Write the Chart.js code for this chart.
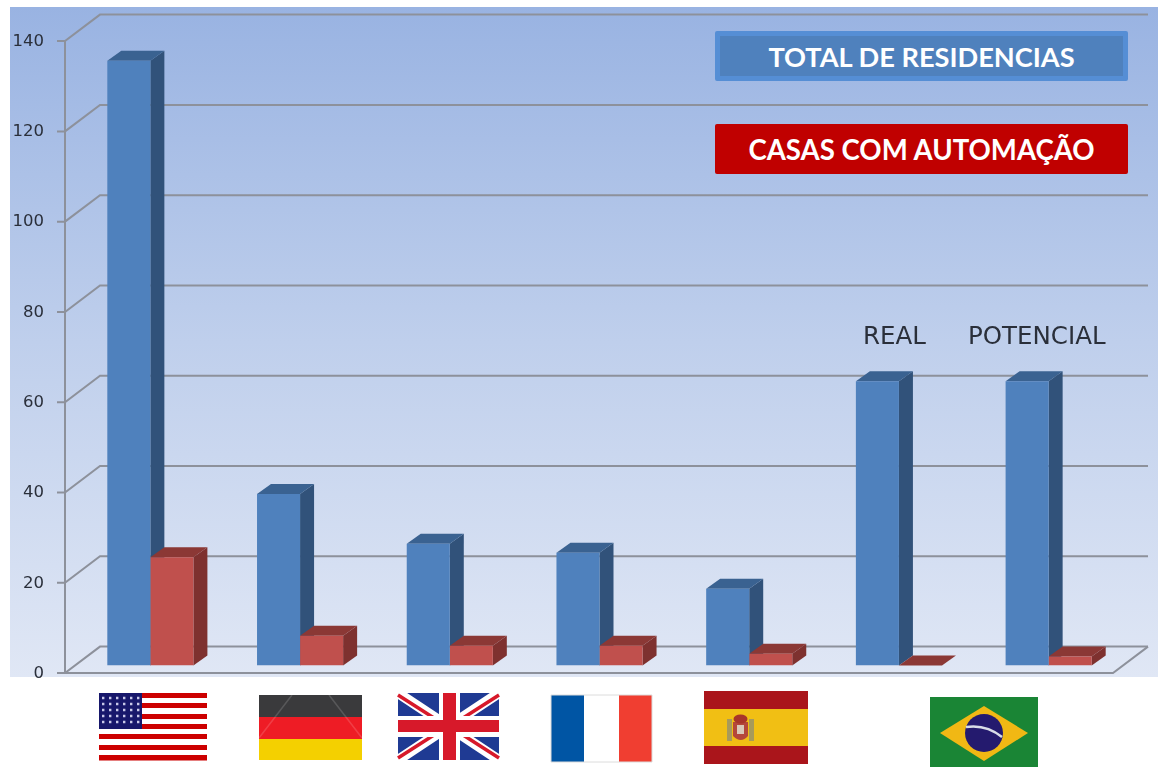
<!DOCTYPE html>
<html>
<head>
<meta charset="utf-8">
<title>Residencias</title>
<script src="https://cdn.jsdelivr.net/npm/chart.js@4/dist/chart.umd.js"></script>
<style>
    html, body { margin: 0; padding: 0; background: #fff; width: 1158px; height: 767px; overflow: hidden; }
    #wrap { position: relative; width: 1158px; height: 767px; overflow: hidden; }
    #chart { position: absolute; left: 0; top: 0; filter: blur(0.6px); }
    #flags { position: absolute; left: 0; top: 0; filter: blur(0.6px); }
    .box { position: absolute; left: 715px; width: 413px; box-sizing: border-box; border-radius: 2px; color: #fff;
        font: bold 27.2px Lato, sans-serif; text-align: center; }
    #boxTotal { top: 31px; height: 50px; line-height: 41px; background: #4f81bd; border: 5px solid #558ed5; }
    #boxCasas { top: 124px; height: 50px; line-height: 52px; background: #c00000; font-size: 27.6px; }
    .note { position: absolute; top: 321px; font: 24.5px "DejaVu Sans", sans-serif; color: #2a2f3a; filter: blur(0.5px); }
</style>
</head>
<body>
<div id="wrap">
    <canvas id="chart" width="1158" height="767"></canvas>

    <svg id="flags" width="1158" height="767" viewBox="0 0 1158 767">
        <!-- usa -->
        <rect x="99" y="693" width="108" height="68" fill="#fff"/>
        <g fill="#cc0000">
            <rect x="99" y="693" width="108" height="5"/><rect x="99" y="703" width="108" height="5"/>
            <rect x="99" y="714" width="108" height="5"/><rect x="99" y="724" width="108" height="5"/>
            <rect x="99" y="734" width="108" height="5"/><rect x="99" y="745" width="108" height="5"/>
            <rect x="99" y="755" width="108" height="5.5"/>
        </g>
        <rect x="99" y="693" width="43" height="36" fill="#17176b"/>
        <g stroke="#c8c8e8" stroke-width="2.4" stroke-dasharray="2.4 4.6">
            <path d="M102 698H141M102 704H141M102 710H141M102 716H141M102 722H141"/>
        </g>
        <!-- germany -->
        <rect x="259" y="695" width="103" height="22" fill="#3a3a3c"/>
        <rect x="259" y="717" width="103" height="22" fill="#ee1c25"/>
        <rect x="259" y="739" width="103" height="21" fill="#f4d000"/>
        <path d="M259 738L292 695M329 695L362 738" stroke="#fff" stroke-opacity="0.15" stroke-width="1.5" fill="none"/>
        <!-- uk -->
        <rect x="398" y="693" width="101" height="67" fill="#1f3a93"/>
        <path d="M398 693L499 760M499 693L398 760" stroke="#fff" stroke-width="10"/>
        <path d="M398 695L448 727M499 758L449 726M499 695L449 727M398 758L448 726" stroke="#d7192a" stroke-width="3.5"/>
        <rect x="398" y="716" width="101" height="21" fill="#fff"/>
        <rect x="439" y="693" width="21" height="67" fill="#fff"/>
        <rect x="398" y="720" width="101" height="12" fill="#d7192a"/>
        <rect x="443" y="693" width="13" height="67" fill="#d7192a"/>
        <!-- france -->
        <rect x="551" y="695" width="33" height="67" fill="#0055a4"/>
        <rect x="584" y="695" width="35" height="67" fill="#fff"/>
        <rect x="619" y="695" width="33" height="67" fill="#f03e31"/>
        <path d="M551 695H652V762H551Z" fill="none" stroke="#dcdcdc" stroke-width="1"/>
        <!-- spain -->
        <rect x="704" y="691" width="104" height="18" fill="#aa151b"/>
        <rect x="704" y="709" width="104" height="37" fill="#f1bf14"/>
        <rect x="704" y="746" width="104" height="18" fill="#aa151b"/>
        <rect x="727" y="719" width="5" height="22" fill="#a89a5a"/>
        <rect x="749" y="719" width="5" height="22" fill="#a89a5a"/>
        <path d="M733 722H748V736Q741 744 733 736Z" fill="#b5473a"/>
        <rect x="737" y="725" width="7" height="9" fill="#d9c8b8"/>
        <ellipse cx="740.5" cy="719" rx="7" ry="4.5" fill="#a8352a"/>
        <!-- brazil -->
        <rect x="930" y="697" width="108" height="70" fill="#1a8535"/>
        <path d="M940 733L984 706L1028 733L984 761Z" fill="#f1b814"/>
        <circle cx="984" cy="733" r="19" fill="#241a6e"/>
        <path d="M966 727Q986 724 1002 737" stroke="#d8dce8" stroke-width="2.5" fill="none"/>
    </svg>

    <div class="box" id="boxTotal">TOTAL DE RESIDENCIAS</div>
    <div class="box" id="boxCasas">CASAS COM AUTOMAÇÃO</div>
    <div class="note" style="left:863px">REAL</div>
    <div class="note" style="left:968px">POTENCIAL</div>
</div>

<script>
(function () {
    'use strict';

    var categories = ['Estados Unidos', 'Alemanha', 'Reino Unido', 'França', 'Espanha', 'Brasil real', 'Brasil potencial'];
    var totalResidencias = [134, 38, 27, 25, 17, 63, 63];
    var casasAutomacao = [24, 6.6, 4.4, 4.4, 2.6, 0, 2];
    var yTicks = [0, 20, 40, 60, 80, 100, 120, 140];

    var gridColor = '#8d919b';

    // the floor and the walls sit around the plane of the bars
    var front = { dx: -10.5, dy: 7.5 };
    var back = { dx: 24.5, dy: -19 };
    var bar3d = { dx: 14, dy: -10 };

    function poly(ctx, pts, color) {
        ctx.fillStyle = color;
        ctx.beginPath();
        ctx.moveTo(pts[0][0], pts[0][1]);
        for (var i = 1; i < pts.length; i++) {
            ctx.lineTo(pts[i][0], pts[i][1]);
        }
        ctx.closePath();
        ctx.fill();
    }

    var walls3d = {
        id: 'walls3d',
        beforeDraw: function (chart) {
            var ctx = chart.ctx;
            var g = ctx.createLinearGradient(0, 7, 0, 677);
            g.addColorStop(0, '#99b3e2');
            g.addColorStop(0.5, '#bfcfec');
            g.addColorStop(1, '#e0e7f5');
            ctx.fillStyle = g;
            ctx.fillRect(10, 7, 1148, 670);
        },
        beforeDatasetsDraw: function (chart) {
            var ctx = chart.ctx;
            var area = chart.chartArea;
            var y = chart.scales.y;
            var xLeft = area.left + front.dx;
            var xBack = area.left + back.dx;
            var xRight = area.right + back.dx;
            var xFront = area.right + front.dx;

            ctx.save();
            ctx.strokeStyle = gridColor;
            ctx.lineWidth = 2;
            yTicks.forEach(function (v) {
                var py = y.getPixelForValue(v);
                ctx.beginPath();
                ctx.moveTo(xLeft - 8, py + front.dy);
                ctx.lineTo(xLeft, py + front.dy);
                ctx.lineTo(xBack, py + back.dy);
                ctx.lineTo(xRight, py + back.dy);
                ctx.stroke();
            });

            var py0 = y.getPixelForValue(0);
            ctx.beginPath();
            ctx.moveTo(xLeft, y.getPixelForValue(140) + front.dy);
            ctx.lineTo(xLeft, py0 + front.dy);
            ctx.lineTo(xFront, py0 + front.dy);
            ctx.lineTo(xRight, py0 + back.dy);
            ctx.stroke();

            // sides and tops, blue first so the red ones land on top of it
            drawSides(chart, 0, '#31527a', '#3a6291');
            drawSides(chart, 1, '#7e312f', '#8b3835');
            ctx.restore();
        }
    };

    function drawSides(chart, index, sideColor, topColor) {
        var ctx = chart.ctx;
        chart.getDatasetMeta(index).data.forEach(function (bar) {
            var p = bar.getProps(['x', 'y', 'base', 'width'], true);
            var l = p.x - p.width / 2;
            var r = p.x + p.width / 2;
            poly(ctx, [[r, p.y], [r + bar3d.dx, p.y + bar3d.dy], [r + bar3d.dx, p.base + bar3d.dy], [r, p.base]], sideColor);
            poly(ctx, [[l, p.y], [l + bar3d.dx, p.y + bar3d.dy], [r + bar3d.dx, p.y + bar3d.dy], [r, p.y]], topColor);
        });
    }

    new Chart(document.getElementById('chart'), {
        type: 'bar',
        data: {
            labels: categories,
            datasets: [
                { label: 'TOTAL DE RESIDENCIAS', data: totalResidencias, backgroundColor: '#4f81bd' },
                { label: 'CASAS COM AUTOMAÇÃO', data: casasAutomacao, backgroundColor: '#c0504d' }
            ]
        },
        options: {
            responsive: false,
            animation: false,
            layout: { padding: { left: 0, right: 34.5, top: 33.6, bottom: 101.4 } },
            datasets: { bar: { barPercentage: 1, categoryPercentage: 0.575 } },
            plugins: { legend: { display: false }, tooltip: { enabled: false } },
            scales: {
                x: {
                    grid: { display: false, drawTicks: false },
                    border: { display: false },
                    ticks: { display: false }
                },
                y: {
                    min: 0,
                    max: 140,
                    afterFit: function (scale) {
                        // no room kept for half a label, the chart area has to stay where it was set
                        scale.width = 75.5;
                        scale.paddingTop = 0;
                        scale.paddingBottom = 0;
                    },
                    afterBuildTicks: function (scale) {
                        scale.ticks = yTicks.map(function (v) { return { value: v }; });
                    },
                    grid: { display: false, drawTicks: false },
                    border: { display: false },
                    ticks: {
                        padding: 31.5,
                        labelOffset: 8,
                        color: '#2a2f3a',
                        font: { family: '"DejaVu Sans"', size: 16.5 }
                    }
                }
            }
        },
        plugins: [walls3d]
    });
})();
</script>
</body>
</html>
